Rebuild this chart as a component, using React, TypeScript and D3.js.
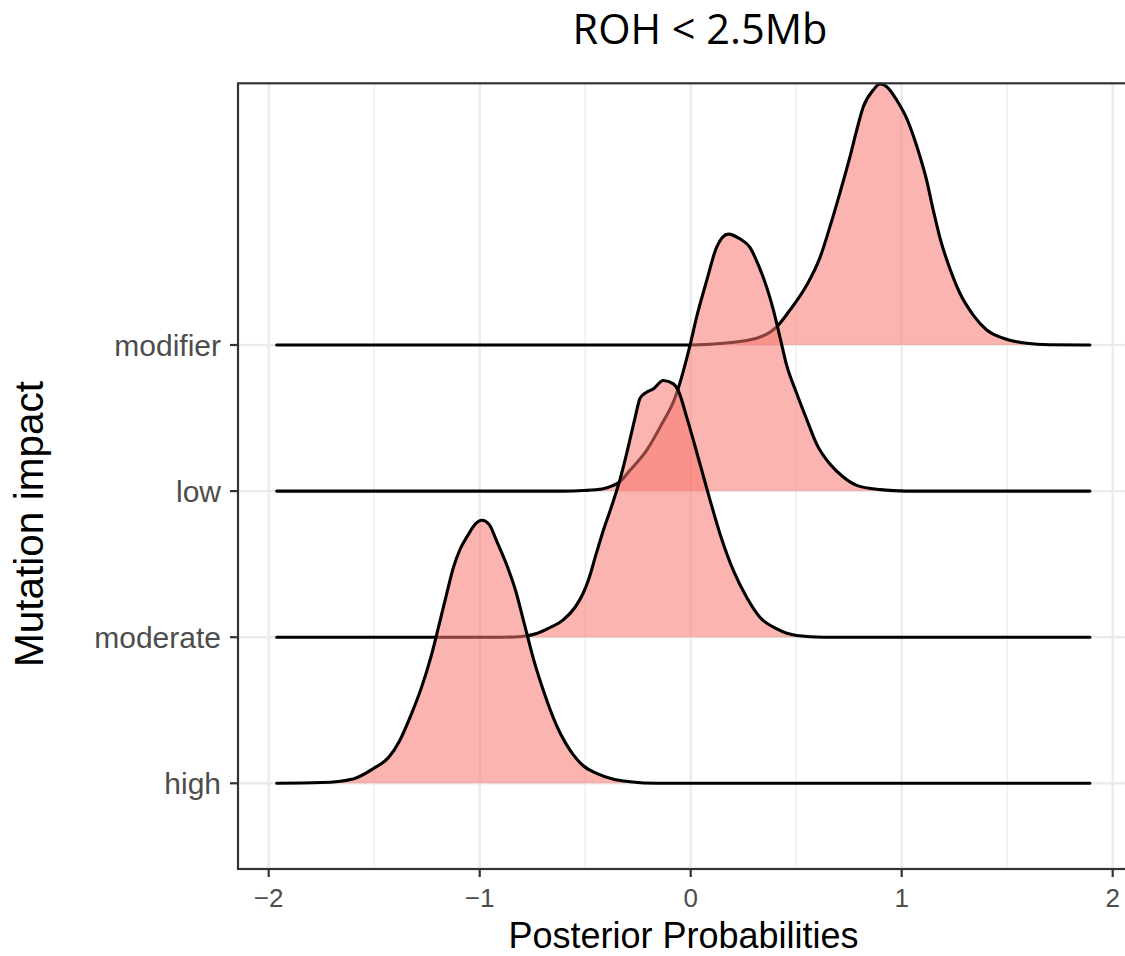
import React from 'react';
import * as d3 from 'd3';

// ---- data ----
const categories: string[] = ['high', 'moderate', 'low', 'modifier'];
const xMajorTicks: number[] = [-2, -1, 0, 1, 2];
const xMinorTicks: number[] = [-1.5, -0.5, 0.5, 1.5];
const titleText = 'ROH < 2.5Mb';
const xTitleText = 'Posterior Probabilities';
const yTitleText = 'Mutation impact';

// density heights expressed in units of the spacing between ridges
const highDensity: [number, number][] = [
  [-1.962, 0], [-1.75, 0.005], [-1.6, 0.03], [-1.505, 0.1], [-1.43, 0.18], [-1.38, 0.29],
  [-1.322, 0.48], [-1.275, 0.66], [-1.23, 0.87], [-1.19, 1.1], [-1.156, 1.3], [-1.125, 1.475],
  [-1.093, 1.602], [-1.057, 1.695], [-1.02, 1.775], [-0.99, 1.8], [-0.956, 1.773], [-0.92, 1.66],
  [-0.875, 1.506], [-0.83, 1.32], [-0.79, 1.1], [-0.745, 0.85], [-0.697, 0.63], [-0.637, 0.4],
  [-0.595, 0.28], [-0.556, 0.195], [-0.509, 0.12], [-0.446, 0.068], [-0.37, 0.03], [-0.288, 0.011],
  [-0.16, 0], [1.892, 0],
];

const moderateDensity: [number, number][] = [
  [-1.962, 0], [-0.9, 0], [-0.802, 0.005], [-0.73, 0.025], [-0.675, 0.06], [-0.603, 0.12],
  [-0.548, 0.205], [-0.512, 0.294], [-0.485, 0.39], [-0.448, 0.57], [-0.412, 0.74], [-0.367, 0.93],
  [-0.335, 1.08], [-0.303, 1.26], [-0.264, 1.5], [-0.24, 1.635], [-0.209, 1.677], [-0.177, 1.7],
  [-0.13, 1.757], [-0.082, 1.734], [-0.059, 1.689], [-0.019, 1.506], [0.044, 1.186], [0.092, 0.937],
  [0.139, 0.707], [0.202, 0.457], [0.265, 0.274], [0.328, 0.137], [0.408, 0.057], [0.502, 0.012],
  [0.628, 0], [1.892, 0],
];

const lowDensity: [number, number][] = [
  [-1.962, 0], [-0.6, 0], [-0.509, 0.004], [-0.42, 0.014], [-0.367, 0.039], [-0.335, 0.065],
  [-0.288, 0.142], [-0.209, 0.279], [-0.145, 0.438], [-0.066, 0.671], [-0.035, 0.821], [-0.003, 0.999],
  [0.028, 1.191], [0.076, 1.442], [0.123, 1.67], [0.178, 1.759], [0.235, 1.725], [0.28, 1.67],
  [0.32, 1.55], [0.36, 1.396], [0.392, 1.239], [0.423, 1.054], [0.455, 0.86], [0.502, 0.67],
  [0.55, 0.49], [0.597, 0.322], [0.66, 0.185], [0.723, 0.096], [0.787, 0.039], [0.897, 0.01],
  [1.02, 0], [1.892, 0],
];

const modifierDensity: [number, number][] = [
  [-1.962, 0], [0.0, 0], [0.155, 0.012], [0.313, 0.046], [0.408, 0.125], [0.471, 0.24],
  [0.55, 0.41], [0.613, 0.6], [0.66, 0.81], [0.707, 1.04], [0.755, 1.289], [0.787, 1.472],
  [0.818, 1.631], [0.865, 1.745], [0.897, 1.786], [0.929, 1.768], [0.976, 1.677], [1.024, 1.55],
  [1.087, 1.289], [1.118, 1.129], [1.15, 0.92], [1.182, 0.73], [1.229, 0.52], [1.276, 0.354],
  [1.339, 0.205], [1.403, 0.103], [1.482, 0.046], [1.592, 0.012], [1.7, 0.002], [1.892, 0],
];

const densities: [number, number][][] = [highDensity, moderateDensity, lowDensity, modifierDensity];

// ---- layout ----
const W = 1125;
const H = 956;
const panel = { left: 238, top: 83.3, right: 1140, bottom: 869 };

export default function App() {
  const x = d3.scaleLinear().domain([-2, 2]).range([268.7, 1112.7]);
  const y = d3.scaleLinear().domain([0, 3]).range([783.3, 345]);

  const ridgeOrder = d3.range(categories.length).reverse(); // back (top) to front (bottom)

  return (
    <svg width={W} height={H} style={{ position: 'absolute', left: 0, top: 0, background: '#fff' }}>
      <rect x={0} y={0} width={W} height={H} fill="#fff" />
      {/* grid */}
      <g>
        {xMinorTicks.map((t) => (
          <line key={'mn' + t} x1={x(t)} x2={x(t)} y1={panel.top} y2={panel.bottom} stroke="#EBEBEB" strokeWidth={1.2} />
        ))}
        {xMajorTicks.map((t) => (
          <line key={'mj' + t} x1={x(t)} x2={x(t)} y1={panel.top} y2={panel.bottom} stroke="#EBEBEB" strokeWidth={2.4} />
        ))}
        {categories.map((c, i) => (
          <line key={'hy' + c} x1={panel.left} x2={panel.right} y1={y(i)} y2={y(i)} stroke="#EBEBEB" strokeWidth={2.4} />
        ))}
      </g>
      {/* ridges */}
      <g>
        {ridgeOrder.map((i) => {
          const data = densities[i];
          const area = d3
            .area<[number, number]>()
            .x((d) => x(d[0]))
            .y0(y(i))
            .y1((d) => y(i + d[1]))
            .curve(d3.curveMonotoneX);
          const line = d3
            .line<[number, number]>()
            .x((d) => x(d[0]))
            .y((d) => y(i + d[1]))
            .curve(d3.curveMonotoneX);
          return (
            <g key={categories[i]}>
              <path d={area(data) || ''} fill="#F8766D" fillOpacity={0.55} stroke="none" />
              <path d={line(data) || ''} fill="none" stroke="#000" strokeWidth={3.1} strokeLinejoin="round" strokeLinecap="round" />
            </g>
          );
        })}
      </g>
      {/* panel border */}
      <rect
        x={panel.left}
        y={panel.top}
        width={panel.right - panel.left}
        height={panel.bottom - panel.top}
        fill="none"
        stroke="#333333"
        strokeWidth={2.2}
      />
      {/* y axis ticks + labels */}
      <g fontFamily="'Liberation Sans', Arial, sans-serif" fontSize={30} fill="#4D4D4D">
        {categories.map((c, i) => (
          <g key={'yt' + c}>
            <line x1={panel.left - 8} x2={panel.left} y1={y(i)} y2={y(i)} stroke="#333333" strokeWidth={2.2} />
            <text x={panel.left - 17} y={y(i)} dy="0.36em" textAnchor="end">
              {c}
            </text>
          </g>
        ))}
      </g>
      {/* x axis ticks + labels */}
      <g fontFamily="'Liberation Sans', Arial, sans-serif" fontSize={26} fill="#4D4D4D">
        {xMajorTicks.map((t) => (
          <g key={'xt' + t}>
            <line x1={x(t)} x2={x(t)} y1={panel.bottom} y2={panel.bottom + 8} stroke="#333333" strokeWidth={2.2} />
            <text x={x(t)} y={907} textAnchor="middle">
              {t < 0 ? '\u2212' + Math.abs(t) : String(t)}
            </text>
          </g>
        ))}
      </g>
      {/* axis titles */}
      <text
        x={683.5}
        y={947.5}
        textAnchor="middle"
        fontFamily="'Liberation Sans', Arial, sans-serif"
        fontSize={36}
        fill="#000"
      >
        {xTitleText}
      </text>
      <text
        transform="translate(43,524) rotate(-90)"
        textAnchor="middle"
        fontFamily="'Liberation Sans', Arial, sans-serif"
        fontSize={40.5}
        fill="#000"
      >
        {yTitleText}
      </text>
      {/* title */}
      <text x={700} y={44} textAnchor="middle" fontFamily="'Open Sans', sans-serif" fontSize={41.5} fill="#000">
        {titleText}
      </text>
    </svg>
  );
}
